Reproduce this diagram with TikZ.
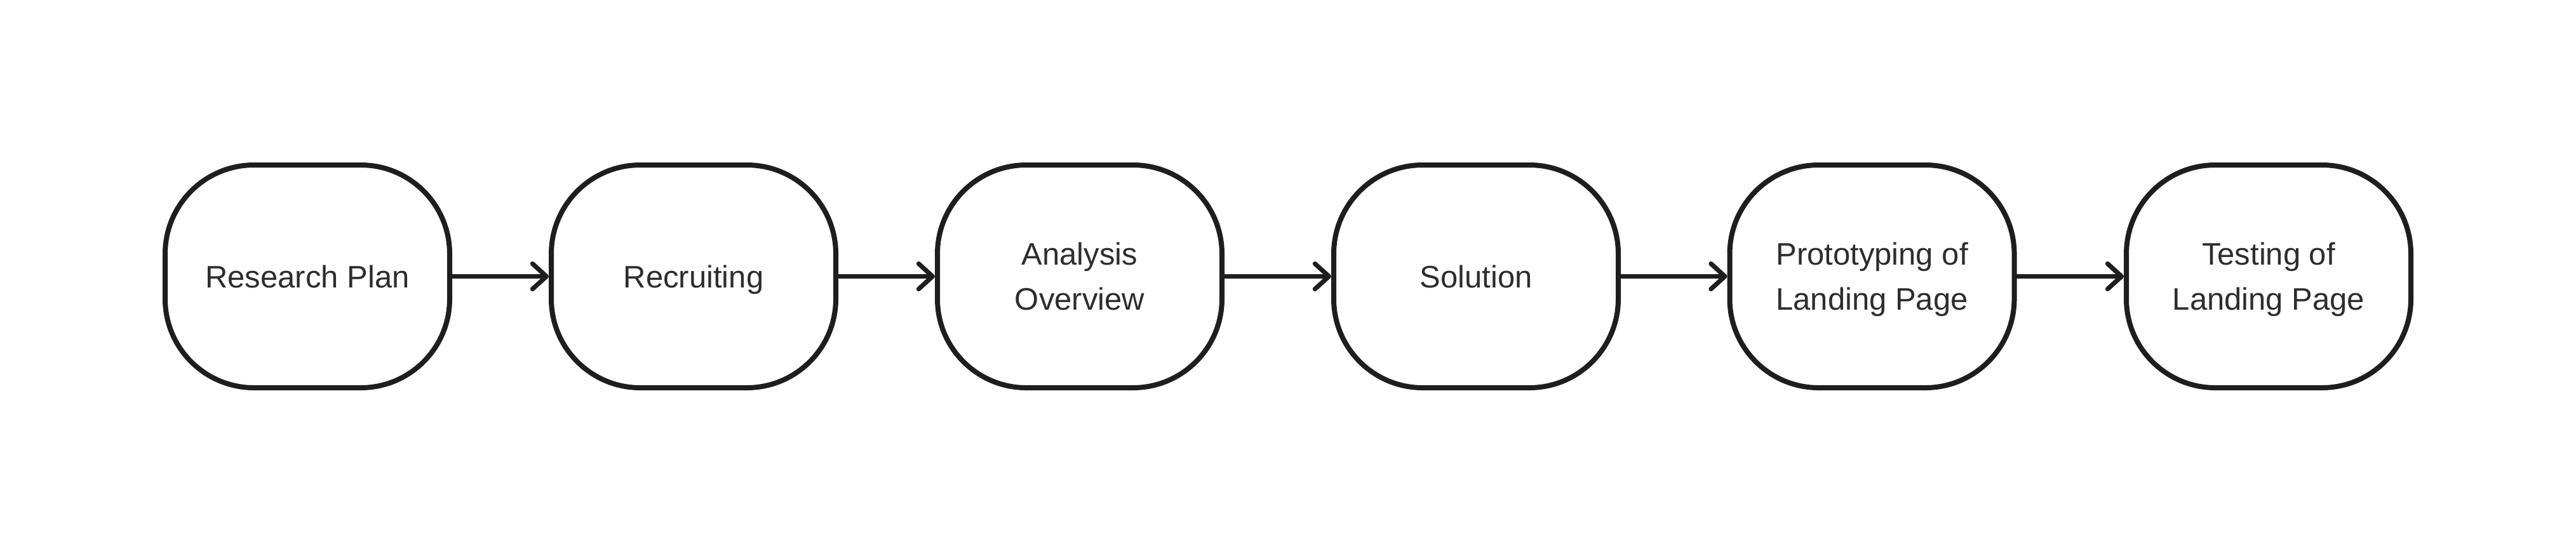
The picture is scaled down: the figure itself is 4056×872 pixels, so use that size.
\documentclass[tikz,border=0pt]{standalone}
\usepackage{fontspec}
\setmainfont{Liberation Sans}
\usetikzlibrary{arrows.meta}
\definecolor{strokec}{HTML}{1E1E1E}
\definecolor{textc}{HTML}{2D2D2D}
\tikzset{
  stepbox/.style={draw=strokec, line width=2pt, rectangle, rounded corners=35pt,
    minimum width=112pt, minimum height=87.75pt, inner sep=0pt, align=center,
    text=textc, text depth=0pt, font=\fontsize{12.25pt}{17.75pt}\selectfont},
  flow/.style={draw=strokec, line width=1.8pt, line cap=round,
    -{Straight Barb[length=5.5pt,width=10pt,line cap=round,line join=round]}}
}
\begin{document}
\begin{tikzpicture}[x=0.25pt,y=-0.25pt]
\useasboundingbox (0,0) rectangle (4056,872);
\node[stepbox] (a) at (484,435.5) {Research Plan};
\node[stepbox] (b) at (1092,435.5) {Recruiting};
\node[stepbox] (c) at (1700,435.5) {Analysis\\Overview};
\node[stepbox] (d) at (2324,435.5) {Solution};
\node[stepbox] (e) at (2947.5,435.5) {Prototyping of\\Landing Page};
\node[stepbox] (f) at (3572,435.5) {Testing of\\Landing Page};
\draw[flow] (a) -- (b);
\draw[flow] (b) -- (c);
\draw[flow] (c) -- (d);
\draw[flow] (d) -- (e);
\draw[flow] (e) -- (f);
\end{tikzpicture}
\end{document}
